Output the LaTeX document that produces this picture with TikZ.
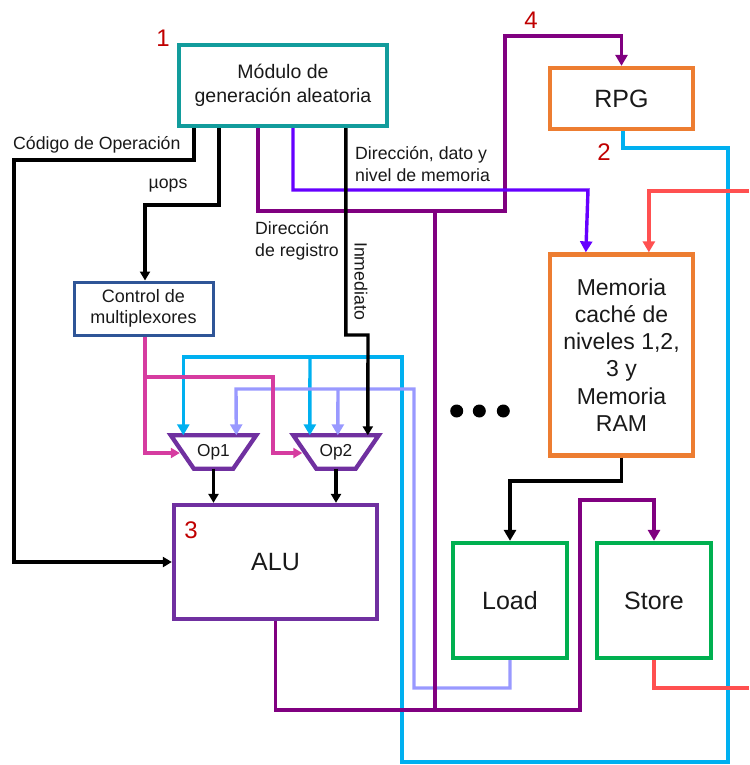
\documentclass[tikz,border=0pt]{standalone}
\usepackage{fontspec}
\setmainfont{Liberation Sans}
\usetikzlibrary{arrows.meta,calc}
\definecolor{cteal}{RGB}{18,156,156}
\definecolor{corange}{RGB}{237,125,49}
\definecolor{cpurb}{RGB}{112,48,160}
\definecolor{cpurl}{RGB}{128,0,128}
\definecolor{cviol}{RGB}{102,0,255}
\definecolor{ccyan}{RGB}{0,176,240}
\definecolor{clav}{RGB}{153,153,255}
\definecolor{cred}{RGB}{255,80,80}
\definecolor{cpink}{RGB}{214,60,160}
\definecolor{cblue}{RGB}{47,85,151}
\definecolor{cgreen}{RGB}{0,176,80}
\definecolor{cnum}{RGB}{192,0,0}
\definecolor{ctext}{RGB}{25,25,25}
\begin{document}
\begin{tikzpicture}[x=1pt,y=-1pt,
  box/.style={draw, line width=4.3pt, inner sep=0pt, align=center, text=ctext},
  conn/.style={line width=3.4pt},
  tipc/.style={-{Triangle[width=12pt,length=11pt]}},
  tipb/.style={-{Triangle[width=10pt,length=9pt]}},
  lbl/.style={inner sep=0pt, text=ctext, font=\fontsize{17.7}{21.7}\selectfont},
  num/.style={inner sep=0pt, text=cnum, font=\fontsize{24}{28}\selectfont},
  opbox/.style={inner sep=0pt, minimum width=85pt, minimum height=33pt, text=ctext, font=\fontsize{17.3}{20}\selectfont},
  trap/.style={draw=cpurb, line width=4.3pt}
]
\useasboundingbox (0,0) rectangle (749,765);

% ---------- boxes ----------
\node[box, draw=cteal, minimum width=208pt, minimum height=81pt,
      font=\fontsize{19.5}{24}\selectfont] (gen) at (283,85.5) {Módulo de\\generación aleatoria};
\node[box, draw=corange, minimum width=143pt, minimum height=61pt,
      font=\fontsize{25}{30}\selectfont] (rpg) at (621.5,98.5) {RPG};
\node[box, draw=corange, minimum width=143pt, minimum height=201pt,
      font=\fontsize{23}{27.2}\selectfont] (mem) at (621.5,355)
      {Memoria\\caché de\\niveles 1,2,\\3 y\\Memoria\\RAM};
\node[box, draw=cblue, line width=3pt, minimum width=139pt, minimum height=53pt,
      font=\fontsize{18}{20.7}\selectfont] (ctrl) at (143.5,308.5) {Control de\\multiplexores};
\node[box, draw=cpurb, minimum width=203pt, minimum height=114pt,
      font=\fontsize{25}{30}\selectfont] (alu) at (275.5,562) {ALU};
\node[box, draw=cgreen, minimum width=114pt, minimum height=115pt,
      font=\fontsize{25}{30}\selectfont] (load) at (510,600.5) {Load};
\node[box, draw=cgreen, minimum width=114pt, minimum height=115pt,
      font=\fontsize{25}{30}\selectfont] (store) at (654,600.5) {Store};

% ---------- multiplexers ----------
\node[opbox] (op1) at (213.5,452) {Op1};
\node[opbox] (op2) at (336,452) {Op2};
\draw[trap] (op1.north west) -- (op1.north east) -- ($(op1.south east)+(-23,0)$)
            -- ($(op1.south west)+(23,0)$) -- cycle;
\draw[trap] (op2.north west) -- (op2.north east) -- ($(op2.south east)+(-23,0)$)
            -- ($(op2.south west)+(23,0)$) -- cycle;

% ---------- connectors ----------
% cyan (RPG)
\draw[conn, ccyan, tipc] ($(rpg.south)+(1.5,0)$) |- (728,148) -- (728,762) -| (402,357)
      -| ($(op1.north west)+(12.5,0)$);
\draw[conn, ccyan, tipc] (310,357) -- ($(op2.north west)+(16.5,0)$);
% lavender (Load)
\draw[conn, clav, tipc] (load.south) |- (414,688) |- (236,389) -- ($(op1.north west)+(65.5,0)$);
\draw[conn, clav, tipc] (338,389) -- ($(op2.north west)+(44.5,0)$);
% pink (control)
\draw[conn, cpink, tipb] ($(ctrl.south)+(1.5,0)$) |- ($(op1.west)+(9,1)$);
\draw[conn, cpink, tipb] (145,377) -| (273,453) -- ($(op2.west)+(9,1)$);
% purple
\draw[conn, cpurl, tipc] ($(gen.south)+(-25,0)$) |- (505,211) -- (505,36) -| (rpg.north);
\draw[conn, cpurl] (435,211) -- (435,710);
\draw[conn, cpurl, tipc] (alu.south) |- (580,710) -- (580,500) -| (store.north);
% violet
\draw[conn, cviol, tipc] ($(gen.south)+(10,0)$) |- (588,190) -- ($(mem.north west)+(38,0)$);
% red
\draw[conn, cred, tipc] (749,191) -| ($(mem.north west)+(101,0)$);
\draw[conn, cred] (store.south) |- (749,688);
% black
\draw[conn, black, tipb] ($(gen.south west)+(17,0)$) |- (14,160) |- (alu.west);
\draw[conn, black, tipb] ($(gen.south west)+(42,0)$) |- (145,205) -- ($(ctrl.north)+(1.5,0)$);
\draw[conn, black, tipb] ($(gen.south west)+(169,0)$) |- (368,335) -- ($(op2.north west)+(74.5,0)$);
\draw[conn, black, tipc] (mem.south) |- (510,481) -- (load.north);
\draw[conn, black, tipb] (op1.south) -- (op1.south |- alu.north);
\draw[conn, black, tipb] (op2.south) -- (op2.south |- alu.north);

% ---------- labels ----------
\node[lbl, anchor=west] (lcod) at (13,145) {Código de Operación};
\node[lbl] (lmu) at (168,186) {µops};
\node[lbl, anchor=west, align=left] (ldir) at (355,164) {Dirección, dato y\\nivel de memoria};
\node[lbl, anchor=west, align=left] (lreg) at (255,241) {Dirección\\de registro};
\node[lbl, rotate=-90] (linm) at (361,281) {Inmediato};

\node[num] (n1) at (163,38) {1};
\node[num] (n4) at (531,20) {4};
\node[num] (n2) at (604,152) {2};
\node[num] (n3) at (191,530) {3};

% ---------- dots ----------
\fill[black] (456.7,411) circle (6.5pt);
\fill[black] (479.3,411) circle (6.5pt);
\fill[black] (503.3,411) circle (6.5pt);
\end{tikzpicture}
\end{document}
